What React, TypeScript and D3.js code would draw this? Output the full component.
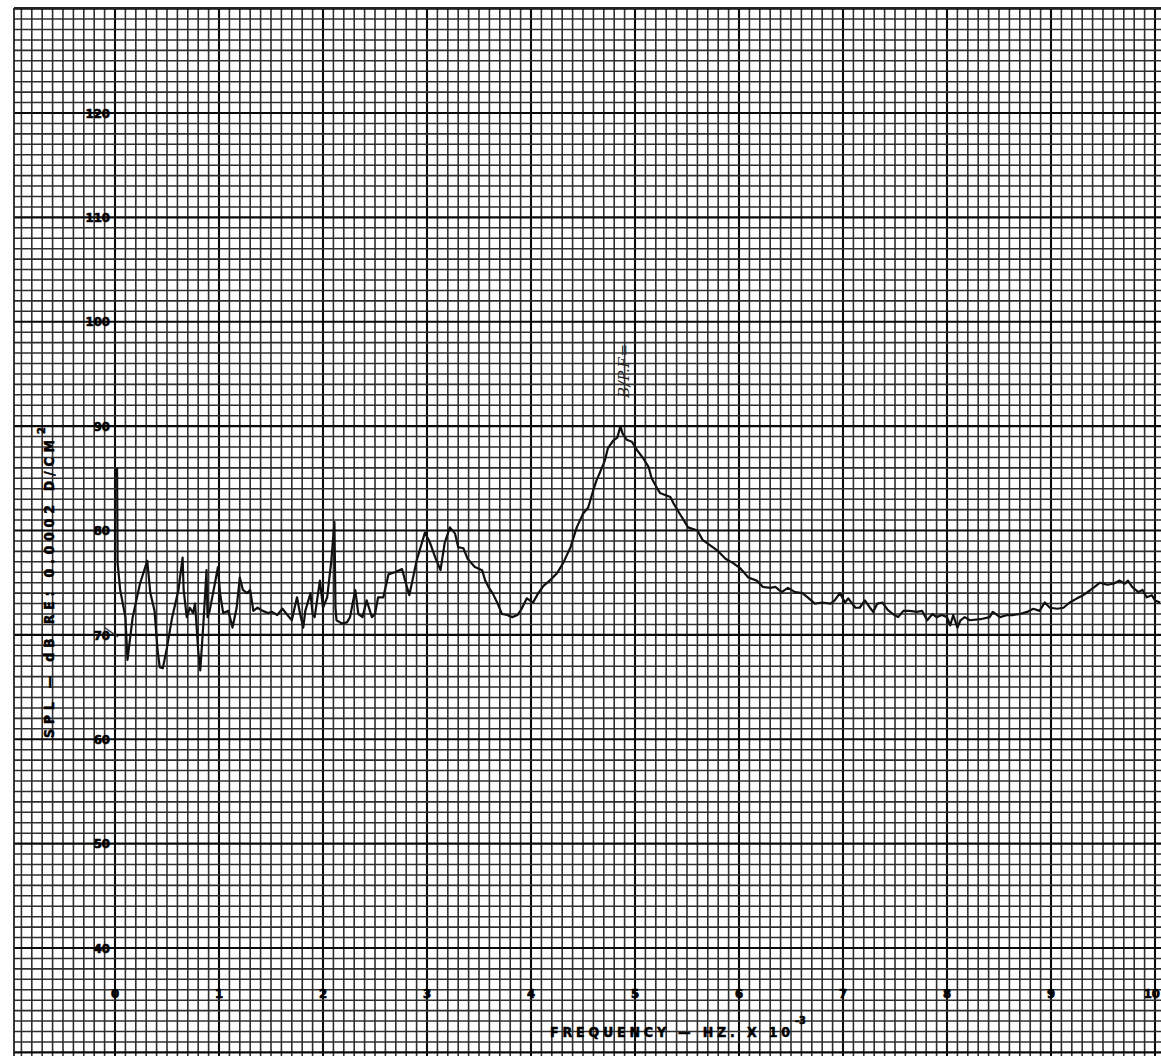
import * as d3 from "d3";

// frequency (kHz) and SPL (dB)
const freqKHz = [
  0.02, 0.025, 0.05, 0.1, 0.12, 0.17, 0.24, 0.31, 0.34, 0.38,
  0.41, 0.43, 0.46, 0.5, 0.55, 0.61, 0.65, 0.66, 0.69, 0.72,
  0.75, 0.77, 0.8, 0.82, 0.85, 0.88, 0.89, 0.91, 0.96, 0.99,
  1.01, 1.04, 1.09, 1.13, 1.17, 1.2, 1.23, 1.27, 1.3, 1.33,
  1.37, 1.42, 1.47, 1.51, 1.56, 1.61, 1.65, 1.7, 1.75, 1.78,
  1.81, 1.83, 1.88, 1.9, 1.92, 1.97, 2.0, 2.04, 2.08, 2.11,
  2.12, 2.13, 2.18, 2.23, 2.26, 2.31, 2.34, 2.38, 2.42, 2.47,
  2.5, 2.53, 2.58, 2.63, 2.69, 2.76, 2.79, 2.83, 2.9, 2.98,
  3.03, 3.08, 3.13, 3.17, 3.22, 3.27, 3.3, 3.35, 3.39, 3.46,
  3.53, 3.56, 3.59, 3.63, 3.68, 3.72, 3.77, 3.82, 3.87, 3.91,
  3.96, 4.02, 4.07, 4.12, 4.18, 4.25, 4.31, 4.38, 4.44, 4.5,
  4.55, 4.6, 4.63, 4.66, 4.71, 4.74, 4.79, 4.83, 4.86, 4.88,
  4.92, 4.97, 5.02, 5.08, 5.13, 5.16, 5.21, 5.24, 5.34, 5.37,
  5.43, 5.48, 5.51, 5.6, 5.65, 5.72, 5.79, 5.87, 5.94, 6.01,
  6.09, 6.17, 6.23, 6.3, 6.35, 6.41, 6.47, 6.54, 6.61, 6.66,
  6.73, 6.8, 6.88, 6.92, 6.97, 7.02, 7.05, 7.12, 7.16, 7.21,
  7.26, 7.29, 7.33, 7.38, 7.43, 7.48, 7.53, 7.58, 7.64, 7.71,
  7.76, 7.81, 7.86, 7.9, 7.95, 8.0, 8.03, 8.06, 8.1, 8.13,
  8.17, 8.22, 8.32, 8.41, 8.44, 8.51, 8.58, 8.63, 8.7, 8.77,
  8.83, 8.89, 8.94, 8.99, 9.06, 9.12, 9.18, 9.25, 9.31, 9.38,
  9.42, 9.47, 9.54, 9.6, 9.66, 9.71, 9.74, 9.78, 9.84, 9.88,
  9.92, 9.97, 10.0, 10.05,
];

const splDb = [
  86.0, 76.9, 74.3, 71.7, 67.6, 71.7, 74.9, 77.1, 74.0, 72.3,
  68.5, 66.9, 66.8, 68.8, 71.7, 74.3, 77.4, 74.3, 71.7, 72.6,
  72.1, 73.0, 68.5, 66.6, 71.1, 76.2, 71.7, 72.3, 74.9, 76.5,
  74.0, 72.1, 72.3, 70.7, 72.6, 75.5, 74.3, 74.0, 74.3, 72.3,
  72.6, 72.3, 72.1, 72.2, 71.9, 72.5, 72.0, 71.4, 73.6, 72.0,
  70.7, 72.3, 74.0, 72.0, 71.7, 75.2, 72.6, 73.6, 77.1, 80.8,
  72.6, 71.4, 71.1, 71.2, 71.7, 74.3, 72.0, 71.7, 73.3, 71.7,
  72.0, 73.6, 73.6, 75.8, 76.0, 76.3, 75.2, 73.8, 77.1, 79.8,
  78.8, 77.4, 76.2, 78.8, 80.3, 79.7, 78.4, 78.3, 77.3, 76.5,
  76.2, 75.2, 74.6, 74.0, 73.0, 72.0, 71.9, 71.7, 71.9, 72.5,
  73.5, 73.1, 74.0, 74.7, 75.2, 75.9, 76.9, 78.4, 80.3, 81.6,
  82.2, 83.9, 84.8, 85.5, 86.7, 87.9, 88.6, 88.9, 90.0, 89.3,
  88.7, 88.5, 87.7, 86.9, 86.1, 85.0, 84.1, 83.6, 83.2, 82.6,
  81.6, 80.8, 80.3, 80.0, 79.1, 78.6, 78.1, 77.3, 76.9, 76.4,
  75.5, 75.2, 74.6, 74.5, 74.6, 74.1, 74.5, 74.1, 74.0, 73.6,
  73.0, 73.1, 73.0, 73.3, 74.0, 73.1, 73.5, 72.6, 72.6, 73.3,
  72.6, 72.2, 73.0, 73.1, 72.4, 72.0, 71.7, 72.3, 72.3, 72.2,
  72.3, 71.4, 72.0, 71.7, 71.9, 71.7, 70.9, 71.9, 70.7, 71.4,
  71.7, 71.4, 71.5, 71.7, 72.2, 71.7, 71.9, 71.9, 72.0, 72.2,
  72.5, 72.3, 73.1, 72.6, 72.5, 72.6, 73.1, 73.5, 73.8, 74.3,
  74.6, 75.0, 74.8, 74.9, 75.2, 74.9, 75.2, 74.6, 74.1, 74.3,
  73.6, 73.8, 73.3, 73.1,
];

// little pen-rest stroke left of the origin
const penFreq = [-0.1, 0.03];
const penSpl = [70.7, 69.8];

const xTicks = [0, 1, 2, 3, 4, 5, 6, 7, 8, 9, 10];
const yTicks = [40, 50, 60, 70, 80, 90, 100, 110, 120];

const W = 1161;
const H = 1056;
const labelFont = "'DejaVu Sans Condensed', 'DejaVu Sans', sans-serif";

export default function App() {
  const x = d3.scaleLinear().domain([0, 10]).range([115, 1155]);
  const y = d3.scaleLinear().domain([40, 120]).range([948, 113]);

  const left = 14;
  const top = 8;

  // graph paper: 0.1 kHz x 1 dB squares, heavier every 1 kHz / 10 dB
  const vLines = d3.range(-9, 101).map((i) => i / 10);
  const hLines = d3.range(30, 131);

  const trace = d3
    .line<number>()
    .x((_, i) => x(freqKHz[i]))
    .y((d) => y(d));

  const pen = d3
    .line<number>()
    .x((_, i) => x(penFreq[i]))
    .y((d) => y(d));

  return (
    <svg
      width={W}
      height={H}
      style={{ position: "absolute", left: 0, top: 0, background: "#fff" }}
    >
      <rect x={0} y={0} width={W} height={H} fill="#fff" />
      <g>
        {vLines.map((v, i) => {
          const major = Math.round(v * 10) % 10 === 0;
          return (
            <line
              key={"v" + i}
              x1={x(v)}
              x2={x(v)}
              y1={top}
              y2={H}
              stroke={major ? "#0a0a0a" : "#2e2e2e"}
              strokeWidth={major ? 2.1 : 1.6}
            />
          );
        })}
        {hLines.map((h) => {
          const major = h % 10 === 0;
          return (
            <line
              key={"h" + h}
              x1={left}
              x2={W}
              y1={y(h)}
              y2={y(h)}
              stroke={major ? "#0a0a0a" : "#2e2e2e"}
              strokeWidth={major ? 2.1 : 1.6}
            />
          );
        })}
        <line x1={left} x2={left} y1={top} y2={H} stroke="#222" strokeWidth={1.8} />
        <line x1={left} x2={W} y1={top} y2={top} stroke="#222" strokeWidth={1.8} />
      </g>

      <g
        fontFamily={labelFont}
        fontWeight="bold"
        fontSize={13}
        fill="#000"
        stroke="#000"
        strokeWidth={0.7}
      >
        {xTicks.map((t) => (
          <text
            key={"xt" + t}
            x={t === 10 ? 1160 : x(t)}
            y={998}
            textAnchor={t === 10 ? "end" : "middle"}
          >
            {t}
          </text>
        ))}
        {yTicks.map((t) => (
          <text key={"yt" + t} x={110} y={y(t)} dy="0.36em" textAnchor="end">
            {t}
          </text>
        ))}
      </g>

      <g fontFamily={labelFont} fontWeight="bold" fill="#000" stroke="#000" strokeWidth={0.5}>
        <text
          transform="translate(54,738) rotate(-90)"
          fontSize={14}
          textLength={298}
          lengthAdjust="spacing"
        >
          SPL — dB   RE: 0.0002 D/CM
        </text>
        <text transform="translate(45,434) rotate(-90)" fontSize={11}>
          2
        </text>
        <text x={550} y={1037} fontSize={14} textLength={240} lengthAdjust="spacing">
          FREQUENCY — HZ.  X  10
        </text>
        <text x={795} y={1024} fontSize={11}>
          -3
        </text>
      </g>

      <text
        transform={`translate(${x(4.86) + 9},398) rotate(-90)`}
        fontFamily="'DejaVu Serif', serif"
        fontStyle="italic"
        fontSize={15}
        textLength={54}
        fill="#222"
      >
        B/P.F=
      </text>

      <path d={pen(penSpl) ?? ""} fill="none" stroke="#333" strokeWidth={1.3} />
      <path
        d={trace(splDb) ?? ""}
        fill="none"
        stroke="#111"
        strokeWidth={2.2}
        strokeLinejoin="round"
      />
    </svg>
  );
}
